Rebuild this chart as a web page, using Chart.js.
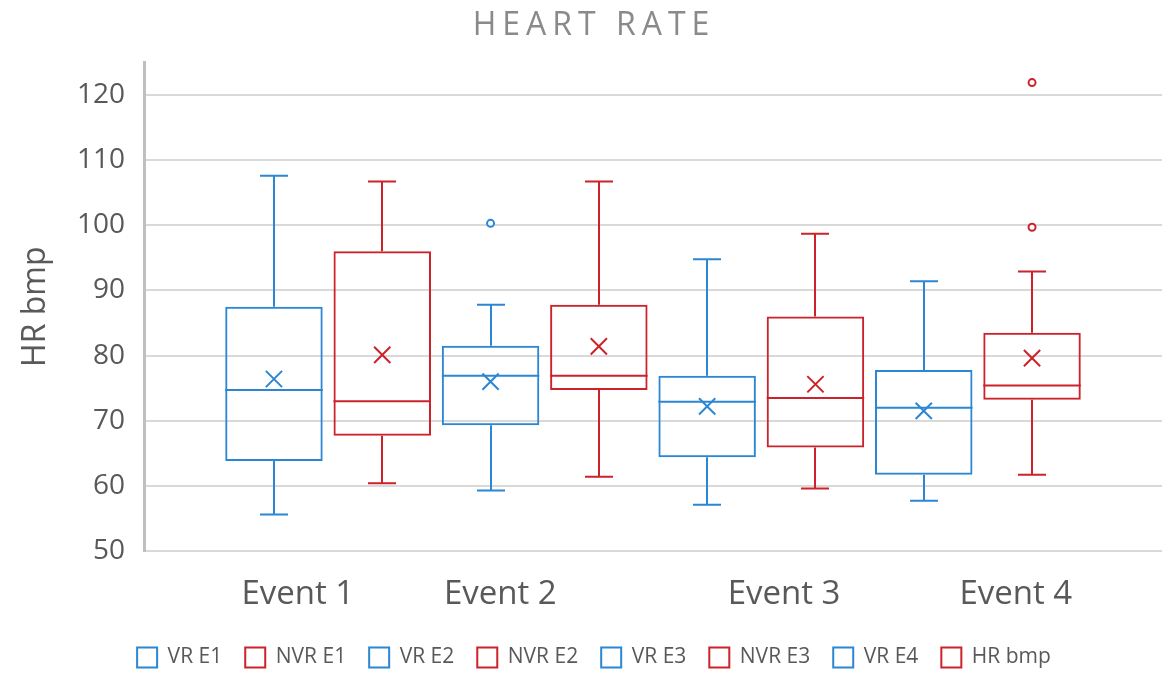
<!DOCTYPE html>
<html>
<head>
<meta charset="utf-8">
<script src="https://cdn.jsdelivr.net/npm/chart.js@4/dist/chart.umd.min.js"></script>
<style>
  html, body { margin: 0; padding: 0; background: #ffffff; }
  #wrap { width: 1162px; height: 673px; }
</style>
</head>
<body>
<div id="wrap"><canvas id="c" width="1162" height="673"></canvas></div>
<script>
// ---------------- data ----------------
const chartTitle = 'HEART RATE';
const yAxisTitle = 'HR bmp';
const seriesNames = ['VR E1', 'NVR E1', 'VR E2', 'NVR E2', 'VR E3', 'NVR E3', 'VR E4', 'HR bmp'];
const boxPositions = [1, 2, 3, 4, 5, 6, 7, 8];
const whiskerLow  = [55.6, 60.4, 59.3, 61.4, 57.1, 59.6, 57.7, 61.7];
const q1          = [63.8, 67.7, 69.3, 74.7, 64.4, 65.9, 61.7, 73.2];
const median      = [74.7, 73.0, 76.9, 76.9, 72.9, 73.5, 72.0, 75.4];
const q3          = [87.5, 96.0, 81.5, 87.8, 76.9, 86.0, 77.8, 83.5];
const whiskerHigh = [107.6, 106.7, 87.8, 106.7, 94.8, 98.7, 91.4, 92.9];
const mean        = [76.4, 80.1, 76.0, 81.4, 72.2, 75.6, 71.5, 79.6];
const outlierSeries = [2, 7, 7];
const outlierValues = [100.3, 99.7, 121.9];
const eventLabels = ['Event 1', 'Event 2', 'Event 3', 'Event 4'];
const eventLabelPositions = [1.22, 3.09, 5.71, 7.85];
const yTickValues = [50, 60, 70, 80, 90, 100, 110, 120];

// ---------------- style ----------------
const BLUE = '#2b87d4';
const RED = '#cc2229';
const seriesColors = [BLUE, RED, BLUE, RED, BLUE, RED, BLUE, RED];
const FONT = "'Open Sans', 'DejaVu Sans', sans-serif";
const TEXT = '#595959';

const boxDatasets = seriesNames.map((name, i) => ({
  type: 'bar',
  label: name,
  data: [{ x: boxPositions[i], y: [q1[i], q3[i]] }],
  backgroundColor: 'rgba(0,0,0,0)',
  borderColor: seriesColors[i],
  borderWidth: 2,
  borderSkipped: false,
  grouped: false,
  barPercentage: 0.9,
  categoryPercentage: 1.0,
  order: 3
}));

const meanDataset = {
  type: 'line',
  label: 'Mean',
  data: mean.map((m, i) => ({ x: boxPositions[i], y: m })),
  showLine: false,
  pointStyle: 'crossRot',
  pointRadius: 11.5,
  pointHoverRadius: 11.5,
  pointBorderWidth: 2,
  pointBorderColor: seriesColors,
  pointBackgroundColor: 'rgba(0,0,0,0)',
  order: 1
};

const outlierDataset = {
  type: 'line',
  label: 'Outliers',
  data: outlierValues.map((v, k) => ({ x: boxPositions[outlierSeries[k]], y: v })),
  showLine: false,
  pointStyle: 'circle',
  pointRadius: 3.5,
  pointHoverRadius: 3.5,
  pointBorderWidth: 2,
  pointBorderColor: outlierSeries.map(s => seriesColors[s]),
  pointBackgroundColor: '#ffffff',
  order: 0
};

const whiskerPlugin = {
  id: 'whiskers',
  afterDatasetsDraw(chart) {
    const ctx = chart.ctx;
    const y = chart.scales.y;
    seriesNames.forEach((name, i) => {
      const el = chart.getDatasetMeta(i).data[0];
      if (!el) return;
      const cx = Math.round(el.x);
      const half = el.width / 2;
      const cap = 14;
      const yLo = y.getPixelForValue(whiskerLow[i]);
      const yQ1 = y.getPixelForValue(q1[i]);
      const yMed = y.getPixelForValue(median[i]);
      const yQ3 = y.getPixelForValue(q3[i]);
      const yHi = y.getPixelForValue(whiskerHigh[i]);
      ctx.save();
      ctx.strokeStyle = seriesColors[i];
      ctx.lineWidth = 2;
      ctx.beginPath();
      ctx.moveTo(cx, yQ3); ctx.lineTo(cx, yHi);
      ctx.moveTo(cx - cap, yHi); ctx.lineTo(cx + cap, yHi);
      ctx.moveTo(cx, yQ1); ctx.lineTo(cx, yLo);
      ctx.moveTo(cx - cap, yLo); ctx.lineTo(cx + cap, yLo);
      ctx.moveTo(el.x - half, yMed); ctx.lineTo(el.x + half, yMed);
      ctx.stroke();
      ctx.restore();
    });
  }
};

const titleSpacingPlugin = {
  id: 'titleSpacing',
  afterInit(chart) {
    const tb = chart.titleBlock;
    if (!tb) return;
    const orig = tb.draw.bind(tb);
    tb.draw = function (area) {
      const c = this.ctx;
      c.save();
      try { c.letterSpacing = '6px'; } catch (e) {}
      orig(area);
      c.restore();
    };
  },
  afterLayout(chart) {
    if (chart.legend) { chart.legend.top += 5; chart.legend.bottom += 5; }
  }
};

new Chart(document.getElementById('c'), {
  type: 'bar',
  data: { datasets: [...boxDatasets, meanDataset, outlierDataset] },
  plugins: [whiskerPlugin, titleSpacingPlugin],
  options: {
    responsive: false,
    animation: false,
    devicePixelRatio: 1,
    layout: { autoPadding: false, padding: { left: 26, right: 0, top: 0, bottom: 0 } },
    plugins: {
      title: {
        display: true,
        text: chartTitle,
        color: '#8a8a8a',
        font: { family: FONT, size: 32, weight: '400', lineHeight: 1.2 },
        padding: { top: 7, bottom: 17 }
      },
      legend: {
        display: true,
        position: 'bottom',
        labels: {
          filter: (item) => item.datasetIndex < seriesNames.length,
          color: TEXT,
          font: { family: FONT, size: 21 },
          boxWidth: 20,
          boxHeight: 20,
          padding: 23
        }
      },
      tooltip: { enabled: false }
    },
    scales: {
      x: {
        type: 'linear',
        offset: false,
        min: -0.2,
        max: 9.2,
        afterBuildTicks: (axis) => { axis.ticks = eventLabelPositions.map(v => ({ value: v })); },
        afterFit: (axis) => { axis.height = 68; axis.paddingLeft = 0; axis.paddingRight = 0; },
        ticks: {
          callback: (v, i) => eventLabels[i],
          color: TEXT,
          font: { family: FONT, size: 33 },
          padding: 24,
          maxRotation: 0,
          autoSkip: false
        },
        grid: { display: false, drawTicks: false, offset: false },
        border: { display: true, color: '#d9d9d9', width: 2 }
      },
      y: {
        type: 'linear',
        min: 50,
        max: 125,
        afterBuildTicks: (axis) => { axis.ticks = yTickValues.map(v => ({ value: v })); },
        afterFit: (axis) => { axis.width = 118; },
        ticks: {
          color: TEXT,
          font: { family: FONT, size: 28 },
          padding: 19
        },
        grid: { color: '#d9d9d9', lineWidth: 2, drawTicks: false },
        border: { display: true, color: '#bfbfbf', width: 3 },
        title: {
          display: true,
          text: yAxisTitle,
          color: TEXT,
          font: { family: FONT, size: 32, lineHeight: 1 },
          padding: { top: -6, bottom: 0 }
        }
      }
    }
  }
});
</script>
</body>
</html>
